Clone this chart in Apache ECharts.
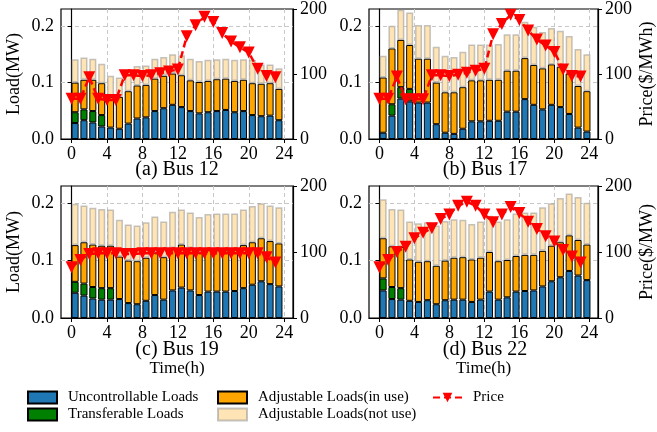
<!DOCTYPE html>
<html><head><meta charset="utf-8">
<script src="https://cdn.jsdelivr.net/npm/echarts@6/dist/echarts.min.js"></script>
<style>html,body{margin:0;padding:0;background:#fff}#c{width:657px;height:432px}</style>
</head><body><div id="c"></div>
<script>
// ---------- data ----------
const hours = [0,1,2,3,4,5,6,7,8,9,10,11,12,13,14,15,16,17,18,19,20,21,22,23];
const xTicks = [0,4,8,12,16,20,24];
const loadTicks = [0,0.1,0.2];
const priceTicks = [0,100,200];
const panelTitles = ['(a) Bus 12','(b) Bus 17','(c) Bus 19','(d) Bus 22'];
const priceAxisNames = ['', 'Price($/MWh)', '', 'Price($/MW)'];
const loadAxisNames = ['Load(MW)', '', 'Load(MW)', ''];
const timeAxisNames = ['', '', 'Time(h)', 'Time(h)'];
const seriesNames = ['Uncontrollable Loads','Transferable Loads','Adjustable Loads(in use)','Adjustable Loads(not use)','Price'];

// Bus 12
const bus12Uncontrollable = [.028,.033,.029,.022,.020,.018,.027,.036,.038,.049,.054,.060,.056,.049,.045,.047,.049,.051,.047,.049,.042,.040,.041,.033];
const bus12Transferable   = [.019,.019,.020,.020,0,0,0,0,0,0,0,0,0,0,0,0,0,0,0,0,0,0,0,0];
const bus12AdjustInUse    = [.052,.052,.055,.056,.054,.056,.057,.058,.057,.057,.057,.055,.056,.054,.055,.055,.056,.055,.055,.055,.056,.057,.057,.055];
const bus12AdjustNotUse   = [.041,.039,.037,.034,.037,.034,.034,.034,.034,.035,.033,.034,.035,.038,.037,.037,.035,.035,.037,.036,.041,.034,.033,.036];
const bus12Price = [62,62,95,62,60,60,98,98,97,98,101,104,107,158,175,188,180,163,150,141,133,108,97,95];

// Bus 17
const bus17Uncontrollable = [.011,.041,.071,.066,.064,.064,.026,.011,.009,.018,.031,.031,.032,.032,.048,.048,.070,.060,.052,.060,.056,.044,.020,.013];
const bus17Transferable   = [0,.020,.020,.022,0,0,0,0,0,0,0,0,0,0,0,0,0,0,0,0,0,0,0,0];
const bus17AdjustInUse    = [.097,.098,.083,.077,.077,.077,.073,.071,.073,.073,.072,.072,.072,.072,.072,.072,.072,.070,.072,.071,.071,.071,.073,.071];
const bus17AdjustNotUse   = [.038,.040,.053,.057,.059,.059,.063,.064,.062,.062,.063,.063,.062,.063,.064,.064,.064,.067,.064,.064,.063,.066,.065,.065];
const bus17Price = [62,62,96,61,61,61,98,98,97,99,102,105,108,161,177,191,183,167,153,144,134,107,97,96];

// Bus 19
const bus19Uncontrollable = [.044,.039,.034,.032,.032,.033,.026,.024,.030,.040,.032,.048,.053,.048,.040,.046,.046,.046,.047,.052,.058,.064,.059,.055];
const bus19Transferable   = [.019,.021,.020,.020,.020,0,0,0,0,0,0,0,0,0,0,0,0,0,0,0,0,0,0,0];
const bus19AdjustInUse    = [.064,.072,.074,.074,.074,.074,.074,.075,.075,.074,.074,.074,.075,.074,.074,.073,.072,.072,.072,.075,.074,.075,.075,.075];
const bus19AdjustNotUse   = [.072,.064,.064,.064,.063,.064,.063,.062,.062,.063,.062,.063,.061,.062,.062,.062,.064,.064,.063,.062,.063,.061,.062,.063];
const bus19Price = [77,88,97,98,98,98,97,97,98,98,98,98,98,98,98,98,98,98,98,98,98,98,92,84];

// Bus 22
const bus22Uncontrollable = [.048,.033,.032,.030,.028,.031,.024,.031,.032,.032,.028,.032,.046,.032,.036,.046,.047,.048,.055,.064,.071,.082,.074,.066];
const bus22Transferable   = [.021,.021,.020,0,0,0,0,0,0,0,0,0,0,0,0,0,0,0,0,0,0,0,0,0];
const bus22AdjustInUse    = [.070,.071,.072,.072,.070,.068,.067,.069,.073,.074,.074,.073,.069,.067,.065,.062,.063,.062,.062,.062,.061,.062,.062,.062];
const bus22AdjustNotUse   = [.068,.065,.065,.066,.067,.068,.070,.069,.067,.065,.062,.063,.063,.069,.071,.074,.074,.074,.076,.074,.077,.073,.075,.073];
const bus22Price = [77,88,100,108,121,129,136,150,157,170,176,170,157,145,157,168,159,146,135,124,116,103,93,84];

const panels = [
  [bus12Uncontrollable, bus12Transferable, bus12AdjustInUse, bus12AdjustNotUse, bus12Price],
  [bus17Uncontrollable, bus17Transferable, bus17AdjustInUse, bus17AdjustNotUse, bus17Price],
  [bus19Uncontrollable, bus19Transferable, bus19AdjustInUse, bus19AdjustNotUse, bus19Price],
  [bus22Uncontrollable, bus22Transferable, bus22AdjustInUse, bus22AdjustNotUse, bus22Price]
];

// ---------- style / layout ----------
const FONT = 'Liberation Serif';
const X_MIN = -1.19, X_MAX = 24.99, LOAD_MAX = 0.23, BAR_FRAC = 0.8;
const gridBoxes = [
  {left: 61, top: 8, width: 232, height: 131},
  {left: 369, top: 8, width: 232, height: 131},
  {left: 61, top: 186, width: 232, height: 132},
  {left: 369, top: 186, width: 232, height: 132}
];
const barStyles = [
  {color: '#1f77b4', borderColor: '#000', borderWidth: 1},
  {color: '#008000', borderColor: '#000', borderWidth: 1},
  {color: '#FFA500', borderColor: '#000', borderWidth: 1},
  {color: '#FFE4B5', borderColor: 'rgba(150,150,150,0.55)', borderWidth: 1.5}
];

const grids = [], xAxes = [], yAxes = [], series = [], graphics = [];
gridBoxes.forEach((g, i) => {
  // main (visible) grid: index 2i ; bar grid (hidden category axis aligned to hours): index 2i+1
  const pxPerH = g.width / (X_MAX - X_MIN);
  grids.push(Object.assign({show: true, borderColor: '#000', borderWidth: 1.2, backgroundColor: 'transparent'}, g));
  grids.push({left: g.left + (0 - X_MIN) * pxPerH - (1 - BAR_FRAC) / 2 * pxPerH,
              width: hours.length * pxPerH, top: g.top, height: g.height});
  const xi = xAxes.length, yi = yAxes.length;
  xAxes.push({
    type: 'value', gridIndex: 2 * i, min: X_MIN, max: X_MAX,
    name: timeAxisNames[i], nameLocation: 'middle', nameGap: 42,
    nameTextStyle: {fontFamily: FONT, fontSize: 17, color: '#000'},
    axisLine: {show: true, lineStyle: {color: '#000', width: 1.2}},
    axisTick: {show: true, length: 4, customValues: xTicks, lineStyle: {color: '#000'}},
    axisLabel: {customValues: xTicks, fontFamily: FONT, fontSize: 18, color: '#000', margin: 6},
    splitLine: {show: true, lineStyle: {color: '#c8c8c8', type: [4, 3], width: 1}}
  });
  xAxes.push({
    type: 'category', gridIndex: 2 * i + 1, data: hours.map(String), boundaryGap: true,
    show: false
  });
  yAxes.push({
    type: 'value', gridIndex: 2 * i, position: 'left', min: 0, max: LOAD_MAX,
    name: loadAxisNames[i], nameLocation: 'middle', nameGap: 38, nameRotate: 90,
    nameTextStyle: {fontFamily: FONT, fontSize: 18, color: '#000'},
    axisLine: {show: true, lineStyle: {color: '#000', width: 1.2}},
    axisTick: {show: true, length: 4, customValues: loadTicks, lineStyle: {color: '#000'}},
    axisLabel: {customValues: loadTicks, formatter: v => v.toFixed(1), fontFamily: FONT, fontSize: 18, color: '#000', margin: 7},
    splitLine: {show: true, lineStyle: {color: '#c8c8c8', type: [4, 3], width: 1}}
  });
  yAxes.push({
    type: 'value', gridIndex: 2 * i, position: 'right', min: 0, max: 200, interval: 100,
    name: priceAxisNames[i], nameLocation: 'middle', nameGap: 40, nameRotate: 90,
    nameTextStyle: {fontFamily: FONT, fontSize: 18, color: '#000'},
    axisLine: {show: true, lineStyle: {color: '#000', width: 1.2}},
    axisTick: {show: true, length: 4, lineStyle: {color: '#000'}},
    axisLabel: {fontFamily: FONT, fontSize: 18, color: '#000', margin: 7},
    splitLine: {show: false}
  });
  yAxes.push({
    type: 'value', gridIndex: 2 * i + 1, min: 0, max: LOAD_MAX, show: false, splitLine: {show: false}
  });
  const vals = panels[i];
  for (let s = 0; s < 4; s++) {
    series.push({
      type: 'bar', name: seriesNames[s], xAxisIndex: xi + 1, yAxisIndex: yi + 2, stack: 'p' + i,
      barWidth: (BAR_FRAC * 100) + '%', itemStyle: barStyles[s], z: 2,
      data: vals[s].map(v => v === 0 ? '-' : v)
    });
  }
  series.push({
    type: 'line', name: seriesNames[4], xAxisIndex: xi, yAxisIndex: yi + 1, z: 5,
    symbol: 'triangle', symbolRotate: 180, symbolSize: 12,
    itemStyle: {color: '#ff0000'},
    lineStyle: {color: '#ff0000', width: 2.5, type: [7, 4]},
    data: hours.map((h, k) => [h, vals[4][k]])
  });
  graphics.push({
    type: 'text', x: g.left + g.width / 2, y: (i < 2 ? 170 : 350),
    style: {text: panelTitles[i], font: '20px "Liberation Serif"', fill: '#000', align: 'center', verticalAlign: 'middle'}
  });
});

const legendPos = [
  {left: 27, top: 390}, {left: 27, top: 407}, {left: 217, top: 390}, {left: 217, top: 407}, {left: 432, top: 390}
];
const legends = seriesNames.map((n, k) => ({
  data: [n], left: legendPos[k].left, top: legendPos[k].top, padding: 0,
  itemWidth: 29, itemHeight: 12, selectedMode: false, icon: k < 4 ? 'rect' : undefined,
  textStyle: {fontFamily: FONT, fontSize: 15, color: '#000', padding: [0, 0, 0, 6]}
}));

const chart = echarts.init(document.getElementById('c'), null, {renderer: 'canvas'});
chart.setOption({
  animation: false,
  backgroundColor: '#fff',
  grid: grids, xAxis: xAxes, yAxis: yAxes, series: series,
  legend: legends, graphic: graphics
});
</script></body></html>
